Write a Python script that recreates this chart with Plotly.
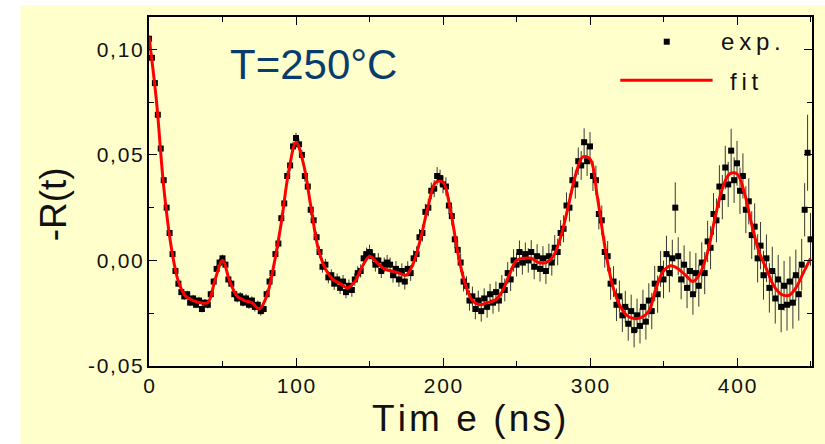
import plotly.graph_objects as go

# ---------------- data ----------------
exp_time = list(range(0, 451, 2))  # ns, sampling grid of the measurement

exp_val = [
    0.105, 0.096, 0.084, 0.069, 0.053, 0.038, 0.025, 0.013, 0.003, -0.005,
    -0.011, -0.015, -0.017, -0.016, -0.020, -0.018, -0.021, -0.019, -0.023, -0.020,
    -0.021, -0.016, -0.010, -0.004, -0.001, 0.001, -0.002, -0.009, -0.011, -0.016,
    -0.018, -0.017, -0.020, -0.018, -0.021, -0.019, -0.022, -0.021, -0.024, -0.023,
    -0.016, -0.010, -0.006, 0.003, 0.008, 0.020, 0.027, 0.040, 0.045, 0.054,
    0.058, 0.055, 0.050, 0.040, 0.035, 0.024, 0.019, 0.011, 0.004, -0.003,
    -0.002, -0.008, -0.007, -0.011, -0.009, -0.013, -0.010, -0.015, -0.012, -0.014,
    -0.009, -0.006, -0.005, 0.001, 0.003, 0.004, 0.002, -0.002, 0.000, -0.005,
    -0.002, -0.001, -0.002, -0.007, -0.004, -0.009, -0.005, -0.010, -0.004, -0.006,
    0.001, 0.003, 0.011, 0.013, 0.023, 0.025, 0.033, 0.034, 0.040, 0.039,
    0.036, 0.035, 0.026, 0.021, 0.010, 0.005, -0.001, -0.010, -0.012, -0.019,
    -0.017, -0.023, -0.019, -0.024, -0.018, -0.022, -0.016, -0.020, -0.015, -0.019,
    -0.012, -0.014, -0.006, -0.009, 0.000, -0.002, 0.004, -0.001, 0.003, 0.000,
    0.004, -0.003, 0.002, -0.004, 0.001, -0.005, 0.002, -0.001, 0.006, 0.004,
    0.013, 0.015, 0.026, 0.025, 0.038, 0.036, 0.047, 0.045, 0.056, 0.047,
    0.054, 0.040, 0.038, 0.022, 0.019, 0.004, 0.002, -0.011, -0.010, -0.021,
    -0.017, -0.026, -0.022, -0.030, -0.024, -0.033, -0.026, -0.031, -0.022, -0.029,
    -0.019, -0.024, -0.011, -0.016, -0.004, -0.009, 0.003, -0.006, 0.001, 0.025,
    0.002, -0.009, -0.002, -0.013, -0.005, -0.016, -0.006, -0.012, -0.001, -0.006,
    0.009, 0.006, 0.022, 0.019, 0.035, 0.030, 0.044, 0.036, 0.052, 0.038,
    0.046, 0.033, 0.040, 0.024, 0.028, 0.012, 0.016, 0.001, 0.007, -0.007,
    0.001, -0.013, -0.005, -0.018, -0.009, -0.022, -0.012, -0.021, -0.010, -0.020,
    -0.007, -0.016, -0.002, 0.024, 0.051, 0.010,
]

exp_err = [
    0.0015, 0.0015, 0.0016, 0.0015, 0.0014, 0.0015, 0.0016, 0.0015, 0.0015, 0.0016,
    0.0016, 0.0015, 0.0017, 0.0016, 0.0015, 0.0017, 0.0016, 0.0018, 0.0016, 0.0017,
    0.0017, 0.0018, 0.0016, 0.0018, 0.0019, 0.0017, 0.0018, 0.0019, 0.0018, 0.0020,
    0.0019, 0.0020, 0.0018, 0.0021, 0.0019, 0.0020, 0.0022, 0.0020, 0.0021, 0.0022,
    0.0021, 0.0022, 0.0023, 0.0021, 0.0023, 0.0024, 0.0022, 0.0024, 0.0025, 0.0023,
    0.0025, 0.0026, 0.0024, 0.0027, 0.0025, 0.0026, 0.0028, 0.0026, 0.0027, 0.0028,
    0.0027, 0.0029, 0.0028, 0.0030, 0.0028, 0.0029, 0.0031, 0.0029, 0.0030, 0.0032,
    0.0030, 0.0032, 0.0031, 0.0033, 0.0031, 0.0034, 0.0032, 0.0033, 0.0035, 0.0033,
    0.0034, 0.0036, 0.0034, 0.0035, 0.0037, 0.0035, 0.0036, 0.0038, 0.0036, 0.0037,
    0.0038, 0.0037, 0.0039, 0.0040, 0.0038, 0.0041, 0.0039, 0.0040, 0.0042, 0.0040,
    0.0042, 0.0044, 0.0041, 0.0045, 0.0043, 0.0046, 0.0044, 0.0047, 0.0045, 0.0048,
    0.0046, 0.0049, 0.0047, 0.0050, 0.0048, 0.0051, 0.0049, 0.0052, 0.0050, 0.0053,
    0.0051, 0.0054, 0.0052, 0.0055, 0.0053, 0.0056, 0.0054, 0.0057, 0.0055, 0.0058,
    0.0056, 0.0059, 0.0057, 0.0060, 0.0058, 0.0061, 0.0059, 0.0062, 0.0060, 0.0063,
    0.0061, 0.0064, 0.0062, 0.0066, 0.0063, 0.0067, 0.0065, 0.0068, 0.0066, 0.0070,
    0.0068, 0.0071, 0.0069, 0.0073, 0.0070, 0.0074, 0.0072, 0.0076, 0.0073, 0.0077,
    0.0075, 0.0079, 0.0076, 0.0080, 0.0078, 0.0082, 0.0079, 0.0083, 0.0081, 0.0085,
    0.0082, 0.0086, 0.0084, 0.0088, 0.0085, 0.0089, 0.0087, 0.0091, 0.0088, 0.0120,
    0.0090, 0.0094, 0.0091, 0.0096, 0.0093, 0.0097, 0.0095, 0.0099, 0.0096, 0.0100,
    0.0098, 0.0102, 0.0099, 0.0104, 0.0101, 0.0105, 0.0103, 0.0107, 0.0104, 0.0108,
    0.0106, 0.0110, 0.0107, 0.0111, 0.0109, 0.0113, 0.0110, 0.0114, 0.0112, 0.0116,
    0.0113, 0.0117, 0.0115, 0.0119, 0.0116, 0.0120, 0.0118, 0.0122, 0.0119, 0.0123,
    0.0121, 0.0125, 0.0122, 0.0126, 0.0180, 0.0125,
]

fit_time = list(range(0, 451, 5))
fit_val = [
    0.106, 0.076, 0.035, 0.007, -0.010, -0.017, -0.019, -0.020, -0.020, -0.009,
    0.000, -0.010, -0.017, -0.019, -0.020, -0.023, -0.017, -0.002, 0.018, 0.042,
    0.056, 0.046, 0.026, 0.006, -0.004, -0.009, -0.011, -0.013, -0.010, -0.003,
    0.002, -0.001, -0.004, -0.005, -0.006, -0.007, -0.001, 0.011, 0.026, 0.037,
    0.037, 0.024, 0.004, -0.011, -0.019, -0.021, -0.020, -0.019, -0.015, -0.007,
    0.000, 0.001, 0.001, -0.001, -0.001, 0.002, 0.011, 0.025, 0.040, 0.049,
    0.048, 0.030, 0.007, -0.011, -0.021, -0.026, -0.0275, -0.027, -0.024, -0.013,
    -0.005, -0.0025, -0.004, -0.007, -0.010, -0.006, 0.004, 0.020, 0.034, 0.041,
    0.041, 0.032, 0.017, 0.004, -0.004, -0.012, -0.016, -0.0166, -0.013, -0.006,
    0.001,
]

x_tickvals = [0, 100, 200, 300, 400]
x_ticklabels = ["0", "100", "200", "300", "400"]
y_tickvals = [-0.05, 0.0, 0.05, 0.10]
y_ticklabels = ["-0,05", "0,00", "0,05", "0,10"]

# ---------------- styling helpers ----------------
THIN = "\u2009"
HAIR = "\u200a"
FONT = "Liberation Sans, Arial, sans-serif"
BG = "#FFFFCC"


def spaced(s, sep):
    return sep.join(list(s))


# plot area in pixels: x 149..814, y 17..366
L, R, T, B = 149, 814, 17, 366
W, H = 825, 444


def px(xpix):
    return (xpix - L) / (R - L)


def py(ypix):
    return (B - ypix) / (B - T)


fig = go.Figure()

fig.add_trace(go.Scatter(
    x=exp_time, y=exp_val, mode="markers", name="exp.",
    marker=dict(symbol="square", size=6, color="black", line=dict(width=0)),
    error_y=dict(type="data", array=exp_err, color="#383838", thickness=1, width=0),
    showlegend=False,
))

fig.add_trace(go.Scatter(
    x=fit_time, y=fit_val, mode="lines", name="fit",
    line=dict(color="#FF0000", width=3, shape="spline", smoothing=1.0),
    showlegend=False,
))

axis_common = dict(
    showline=True, linecolor="black", linewidth=2, mirror="ticks",
    ticks="inside", ticklen=8, tickwidth=1.3, tickcolor="black",
    showgrid=False, zeroline=False,
    tickfont=dict(family=FONT, size=21, color="#111111"),
)

fig.update_xaxes(
    range=[0, 451], tickmode="array", tickvals=x_tickvals,
    ticktext=[spaced(t, HAIR) for t in x_ticklabels],
    minor=dict(tickmode="linear", tick0=0, dtick=50, ticks="inside",
               ticklen=5, tickwidth=1.3, tickcolor="black", showgrid=False),
    **axis_common,
)
fig.update_yaxes(
    range=[-0.05, 0.1153], tickmode="array", tickvals=y_tickvals,
    ticktext=[spaced(t, HAIR) for t in y_ticklabels],
    minor=dict(tickmode="linear", tick0=-0.05, dtick=0.025, ticks="inside",
               ticklen=5, tickwidth=1.3, tickcolor="black", showgrid=False),
    **axis_common,
)

shapes = [
    # white bands at top and left of the picture
    dict(type="rect", xref="paper", yref="paper", layer="below",
         x0=px(-5), x1=px(W + 5), y0=py(5), y1=py(-5),
         fillcolor="white", line=dict(width=0)),
    dict(type="rect", xref="paper", yref="paper", layer="below",
         x0=px(-5), x1=px(20), y0=py(W), y1=py(-5),
         fillcolor="white", line=dict(width=0)),
    # legend: marker for exp.
    dict(type="rect", xref="paper", yref="paper",
         x0=px(665.3), x1=px(671.3), y0=py(44.7), y1=py(38.7),
         fillcolor="black", line=dict(width=0)),
    # legend: line for fit
    dict(type="line", xref="paper", yref="paper",
         x0=px(621.7), x1=px(714.3), y0=py(80.3), y1=py(80.3),
         line=dict(color="#FF0000", width=3)),
]

annotations = [
    dict(text="T=250°C", xref="paper", yref="paper", x=px(314), y=py(64.5),
         xanchor="center", yanchor="middle", showarrow=False,
         font=dict(family=FONT, size=42, color="#0A3B6E")),
    dict(text=spaced("exp.", THIN), xref="paper", yref="paper", x=px(721), y=py(42),
         xanchor="left", yanchor="middle", showarrow=False,
         font=dict(family=FONT, size=24, color="#111111")),
    dict(text=spaced("fit", THIN), xref="paper", yref="paper", x=px(730), y=py(82),
         xanchor="left", yanchor="middle", showarrow=False,
         font=dict(family=FONT, size=24, color="#111111")),
    dict(text=spaced("Tim e (ns)", HAIR), xref="paper", yref="paper", x=px(469.5), y=py(418),
         xanchor="center", yanchor="middle", showarrow=False,
         font=dict(family=FONT, size=37, color="#111111")),
    dict(text="-R(t)", xref="paper", yref="paper", x=px(53), y=py(204),
         xanchor="center", yanchor="middle", showarrow=False, textangle=-90,
         font=dict(family=FONT, size=37, color="#111111")),
]

fig.update_layout(
    width=W, height=H,
    margin=dict(l=L, r=W - R, t=T, b=H - B, pad=0),
    paper_bgcolor=BG, plot_bgcolor=BG,
    shapes=shapes, annotations=annotations,
    showlegend=False,
    font=dict(family=FONT),
)

fig.write_html(
    "out.html",
    config={"displayModeBar": False},
    post_script="document.body.style.margin='0';document.body.style.padding='0';",
)
